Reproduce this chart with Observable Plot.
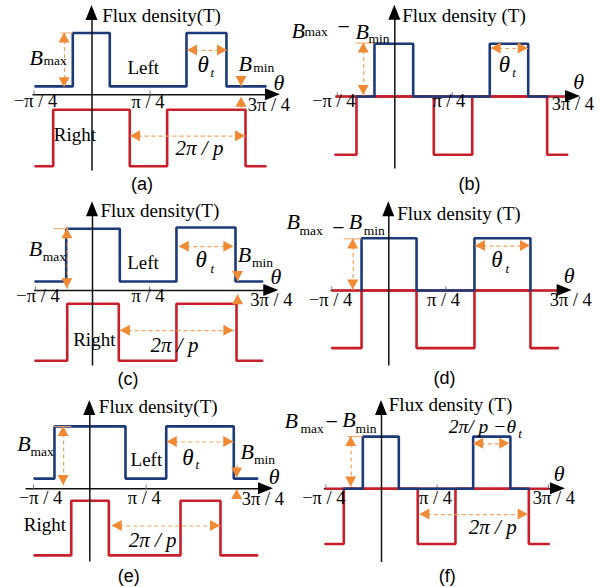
<!DOCTYPE html>
<html><head><meta charset="utf-8">
<script src="https://cdn.jsdelivr.net/npm/d3@7"></script>
<script src="https://cdn.jsdelivr.net/npm/@observablehq/plot@0.6"></script>
<style>
body{margin:0;background:#fff}
#fig{position:relative;width:616px;height:587px;overflow:hidden}
#fig svg{position:absolute;left:0;top:0}
</style></head><body><div id="fig"></div><script>
// θ in degrees (π/4 = 45°); flux density in relative units (axis = 0)
const blueA_theta = [-43.8, -14.9, 13.8, 73.3, 104.3, 134.6];
const blueA_flux  = [0.14, 1.03, 0.14, 1.03, 0.14];
const redA_theta  = [-43.8, -30.1, 29.3, 58.3, 119.1, 134.6];
const redA_flux   = [-1.19, -0.25, -1.19, -0.25, -1.19];

const blueB_theta = [-30.0, -15.9, 14.4, 74.3, 104.4, 119.2];
const blueB_flux  = [0, 0.88, 0, 0.88, 0];
const redB_theta  = [-46.4, -30.0, 30.5, 60.6, 119.2, 134.9];
const redB_flux   = [-0.97, 0, -0.97, 0, -0.97];

const blueC_theta = [-44.9, -20.7, 21.5, 66.1, 112.6, 133.6];
const blueC_flux  = [0.15, 1.03, 0.15, 1.05, 0.15];
const redC_theta  = [-44.9, -19.9, 20.7, 66.1, 113.4, 133.6];
const redC_flux   = [-1.17, -0.22, -1.17, -0.22, -1.17];

const blueD_theta = [-21.5, -21.5, 21.9, 67.6, 111.8, 111.8];
const blueD_flux  = [0, 0.87, 0, 0.87, 0];
const redD_theta  = [-44.7, -21.5, 21.9, 67.6, 111.8, 133.4];
const redD_flux   = [-0.96, 0, -0.96, 0, -0.96];

const blueE_theta = [-44.1, -28.2, 28.5, 61.0, 114.9, 133.6];
const blueE_flux  = [0.17, 1.04, 0.17, 1.04, 0.17];
const redE_theta  = [-44.1, -14.8, 15.2, 72.4, 104.3, 133.6];
const redE_flux   = [-1.11, -0.20, -1.11, -0.20, -1.11];

const blueF_theta = [-30.5, -15.1, 14.0, 74.1, 104.2, 119.1];
const blueF_flux  = [0, 0.87, 0, 0.87, 0];
const redF_theta  = [-45.3, -30.5, 29.3, 59.8, 119.1, 135.2];
const redF_flux   = [-0.92, 0, -0.92, 0, -0.92];

const tickTheta  = [-45, 45, 135];
const tickLabels = ["−π / 4", "π / 4", "3π / 4"];

// ---------- layout ----------
const W = 616, H = 587, KY = 60;
const BLUE = "#1d3a78", RED = "#c81f2b", ORANGE = "#f08a35", DASH = "#f2a35e";
const SERIF = "'Liberation Serif','Times New Roman',serif";
const SANS = "'Liberation Sans',Arial,sans-serif";

function steps(theta, flux) {
  const pts = [];
  for (let i = 0; i < flux.length; i++) {
    pts.push({x: theta[i], y: flux[i]}, {x: theta[i + 1], y: flux[i]});
  }
  return pts;
}
function ticks(off) {
  return tickTheta.map((t, i) => ["tick", tickLabels[i], t + off[i][0], off[i][1]]);
}

const panels = [
  {x0: 91.5, kx: 1.289, y0: 94.3, blue: [blueA_theta, blueA_flux], red: [redA_theta, redA_flux], redZero: false,
   ax: [-46.2, 146.2, -1.26, 1.49],
   texts: [["title", "Flux density(T)", 7.9, 1.21], ["B", "B", -48.5, 0.505], ["sub", "max", -37.6, 0.49],
     ["word", "Left", 27.5, 0.355], ["theta", "θ", 81.8, 0.377], ["tsub", "t", 91.9, 0.293],
     ["B", "B", 113.7, 0.393], ["sub", "min", 125.0, 0.377], ["axis", "θ", 140.8, 0.083],
     ["word", "Right", -29.6, -0.762], ["frac", "2π / p", 64.8, -1.01], ["cap", "(a)", 38.8, -1.58],
     ...ticks([[1.2, -0.195], [-1.6, -0.228], [2.2, -0.278]])],
   arrows: [[-21.3, 1.03, -21.3, 0.117, 1, 1], [74.1, 0.74, 105.1, 0.74, 1, 1], [116, 0.32, 116, 0.14, 0, 1],
     [116, -0.24, 116, -0.04, 0, 1], [29.9, -0.69, 119.1, -0.69, 1, 1]],
   leaders: [[-24.4, -14.9, 1.03]]},
  {x0: 394.3, kx: 1.278, y0: 96, blue: [blueB_theta, blueB_flux], red: [redB_theta, redB_flux], redZero: true,
   ax: [-46.4, 145.3, -1.2, 1.52],
   texts: [["title", "Flux density (T)", 5.8, 1.24], ["B", "B", -80.8, 0.98], ["sub", "max", -70.7, 1.01],
     ["minus", "−", -44.8, 1.045], ["B", "B", -30.8, 0.96], ["sub", "min", -20.6, 0.9],
     ["theta", "θ", 81.4, 0.405], ["tsub", "t", 91.9, 0.32], ["axis", "θ", 139.6, 0.128], ["cap", "(b)", 58.5, -1.55],
     ...ticks([[-2.7, -0.167], [-2.7, -0.167], [4.4, -0.233]])],
   arrows: [[-24.3, 0.89, -24.3, 0.017, 1, 1], [75.4, 0.8, 104.4, 0.8, 1, 1]],
   leaders: [[-30.8, -15.9, 0.89]]},
  {x0: 92, kx: 1.27, y0: 290, blue: [blueC_theta, blueC_flux], red: [redC_theta, redC_flux], redZero: false,
   ax: [-46.1, 146.7, -1.25, 1.48],
   texts: [["title", "Flux density(T)", 6.3, 1.22], ["B", "B", -50.2, 0.583], ["sub", "max", -39.1, 0.5],
     ["word", "Left", 27.3, 0.362], ["theta", "θ", 81.1, 0.388], ["tsub", "t", 92.9, 0.3],
     ["B", "B", 114.4, 0.472], ["sub", "min", 125.5, 0.4], ["axis", "θ", 140.2, 0.112],
     ["word", "Right", -15.2, -0.917], ["frac", "2π / p", 45.7, -1.03], ["cap", "(c)", 28, -1.58],
     ...ticks([[2.1, -0.195], [-1.3, -0.195], [5.8, -0.25]])],
   arrows: [[-19.8, 1.03, -19.8, 0.03, 1, 1], [68.3, 0.73, 111.3, 0.73, 1, 1], [114.6, 0.33, 114.6, 0.15, 0, 1],
     [114.6, -0.22, 114.6, -0.07, 0, 1], [22, -0.67, 111.3, -0.67, 1, 1]],
   leaders: [[-30.7, -18.9, 1.03]]},
  {x0: 388.3, kx: 1.267, y0: 290, blue: [blueD_theta, blueD_flux], red: [redD_theta, redD_flux], redZero: true,
   ax: [-46.1, 144.7, -1.25, 1.48],
   texts: [["title", "Flux density (T)", 6.6, 1.18], ["B", "B", -80.7, 1.017], ["sub", "max", -70.5, 0.917],
     ["minus", "−", -44.7, 0.933], ["B", "B", -31.6, 1.03], ["sub", "min", -19.7, 0.928],
     ["theta", "θ", 80.8, 0.388], ["tsub", "t", 92.1, 0.3], ["axis", "θ", 138.1, 0.128], ["cap", "(d)", 44, -1.555],
     ...ticks([[-1, -0.25], [-1.8, -0.25], [8.6, -0.25]])],
   arrows: [[-28.1, 0.86, -28.1, 0.01, 1, 1], [68.4, 0.74, 111.8, 0.74, 1, 1]],
   leaders: [[-35.5, -21.5, 0.86]]},
  {x0: 89.3, kx: 1.253, y0: 488.3, blue: [blueE_theta, blueE_flux], red: [redE_theta, redE_flux], redZero: false,
   ax: [-51.3, 146.6, -1.21, 1.47],
   texts: [["title", "Flux density(T)", 7.2, 1.26], ["B", "B", -57.9, 0.638], ["sub", "max", -47.3, 0.555],
     ["word", "Left", 32.5, 0.388], ["theta", "θ", 73.7, 0.405], ["tsub", "t", 84.4, 0.322],
     ["B", "B", 120.3, 0.5], ["sub", "min", 131.0, 0.417], ["axis", "θ", 142.9, 0.083],
     ["word", "Right", -52.7, -0.695], ["frac", "2π / p", 31.1, -0.973], ["cap", "(e)", 31.1, -1.545],
     ...ticks([[5.7, -0.25], [-1.5, -0.25], [3.2, -0.278]])],
   arrows: [[-20.9, 1.04, -20.9, 0.055, 1, 1], [61.8, 0.78, 114.9, 0.78, 1, 1], [117.6, 0.4, 117.6, 0.18, 0, 1],
     [117.6, -0.17, 117.6, -0.01, 0, 1], [17.9, -0.62, 104.3, -0.62, 1, 1]],
   leaders: [[-28.7, -14.8, 1.04]]},
  {x0: 381, kx: 1.237, y0: 488.3, blue: [blueF_theta, blueF_flux], red: [redF_theta, redF_flux], redZero: true,
   ax: [-46.6, 148.7, -1.22, 1.47],
   texts: [["title", "Flux density (T)", 5.9, 1.3], ["B", "B", -78.4, 1.02], ["sub", "max", -65.5, 0.927],
     ["minus", "−", -45.3, 1.0], ["B", "B", -31.8, 1.027], ["sub", "min", -21, 0.927],
     ["frac2", "2π/ p −θ", 54.4, 0.925], ["tsub", "t", 110.5, 0.85], ["axis", "θ", 139.3, 0.127],
     ["frac", "2π / p", 70.6, -0.75], ["cap", "(f)", 53.1, -1.545],
     ...ticks([[-1.6, -0.25], [-1.3, -0.25], [4.3, -0.25]])],
   arrows: [[-24.5, 0.87, -24.5, 0.03, 1, 1], [74.5, 0.75, 103.7, 0.75, 1, 1], [31, -0.43, 118.6, -0.43, 1, 1]],
   leaders: [[-27.8, -15.2, 0.87]]}
];

const styles = {
  title: {fontFamily: SERIF, fontSize: 19, textAnchor: "start"},
  word: {fontFamily: SERIF, fontSize: 19, textAnchor: "start"},
  B: {fontFamily: SERIF, fontSize: 22, fontStyle: "italic", textAnchor: "start"},
  sub: {fontFamily: SERIF, fontSize: 13.5, textAnchor: "start"},
  minus: {fontFamily: SERIF, fontSize: 22, textAnchor: "start"},
  theta: {fontFamily: SERIF, fontSize: 23, fontStyle: "italic", textAnchor: "start"},
  tsub: {fontFamily: SERIF, fontSize: 13, fontStyle: "italic", textAnchor: "start"},
  axis: {fontFamily: SERIF, fontSize: 22, fontStyle: "italic", textAnchor: "start"},
  tick: {fontFamily: SERIF, fontSize: 18.5, textAnchor: "middle"},
  frac: {fontFamily: SERIF, fontSize: 21, fontStyle: "italic", textAnchor: "start"},
  frac2: {fontFamily: SERIF, fontSize: 19.5, fontStyle: "italic", textAnchor: "start"},
  cap: {fontFamily: SANS, fontSize: 18, textAnchor: "middle"}
};

// filled triangular arrow heads drawn through the plot's scales
function heads(list, fill, len, half) {
  return (index, scales) => {
    const g = d3.create("svg:g");
    for (const h of list) {
      const px = scales.x(h.x), py = scales.y(h.y);
      const fx = scales.x(h.fx), fy = scales.y(h.fy);
      const ang = Math.atan2(py - fy, px - fx) * 180 / Math.PI;
      g.append("polygon")
        .attr("points", `0,0 ${-len},${-half} ${-len},${half}`)
        .attr("fill", fill)
        .attr("transform", `translate(${px},${py}) rotate(${ang})`);
    }
    return g.node();
  };
}

const fig = document.getElementById("fig");
for (const p of panels) {
  const [xmin, xmax, ymin, ymax] = p.ax;
  const blue = steps(...p.blue), red = steps(...p.red);
  const xAxis = [{x1: xmin, y1: 0, x2: xmax - 4, y2: 0}];
  const yAxis = [{x1: 0, y1: ymin, x2: 0, y2: ymax - 0.1}];
  const tickSegs = tickTheta.map(t => ({x1: t, y1: 0, x2: t, y2: 0.07}));
  const axisHeads = [{x: xmax, y: 0, fx: xmin, fy: 0}, {x: 0, y: ymax, fx: 0, fy: ymin}];
  const shafts = p.arrows.map(([x1, y1, x2, y2]) => ({x1, y1, x2, y2}));
  const oHeads = [];
  for (const [x1, y1, x2, y2, h1, h2] of p.arrows) {
    if (h1) oHeads.push({x: x1, y: y1, fx: x2, fy: y2});
    if (h2) oHeads.push({x: x2, y: y2, fx: x1, fy: y1});
  }
  const leaders = p.leaders.map(([a, b, y]) => ({x1: a, y1: y, x2: b, y2: y}));
  const texts = p.texts.map(([kind, text, x, y]) => ({kind, text, x, y}));
  const link = {x1: "x1", y1: "y1", x2: "x2", y2: "y2"};
  const marks = [
    Plot.link(xAxis, {...link, stroke: "#111", strokeWidth: 1.5}),
    Plot.link(tickSegs, {...link, stroke: "#777", strokeWidth: 1})
  ];
  if (p.redZero) marks.push(Plot.link([{x1: p.red[0][0], y1: 0, x2: p.red[0][p.red[0].length - 1], y2: 0}], {...link, stroke: RED, strokeWidth: 2.6}));
  marks.push(
    Plot.line(red, {x: "x", y: "y", stroke: RED, strokeWidth: 2.6, strokeLinejoin: "miter"}),
    Plot.line(blue, {x: "x", y: "y", stroke: BLUE, strokeWidth: 2.6, strokeLinejoin: "miter"}),
    Plot.link(yAxis, {...link, stroke: "#111", strokeWidth: 1.5}),
    heads(axisHeads, "#000", 15, 6),
    Plot.link(shafts, {...link, stroke: DASH, strokeWidth: 1.2, strokeDasharray: "4,3"}),
    Plot.link(leaders, {...link, stroke: DASH, strokeWidth: 1}),
    heads(oHeads, ORANGE, 10, 5.5)
  );
  for (const [kind, st] of Object.entries(styles)) {
    const sub = texts.filter(t => t.kind === kind);
    if (sub.length) marks.push(Plot.text(sub, {x: "x", y: "y", text: "text", lineAnchor: "bottom", fill: "#000", ...st}));
  }
  const svg = Plot.plot({
    width: W, height: H, margin: 0,
    style: {background: "transparent", overflow: "visible"},
    x: {domain: [-45, 135], range: [p.x0 - 45 * p.kx, p.x0 + 135 * p.kx], axis: null},
    y: {domain: [0, 1], range: [p.y0, p.y0 - KY], axis: null},
    marks
  });
  fig.append(svg);
}
</script></body></html>
